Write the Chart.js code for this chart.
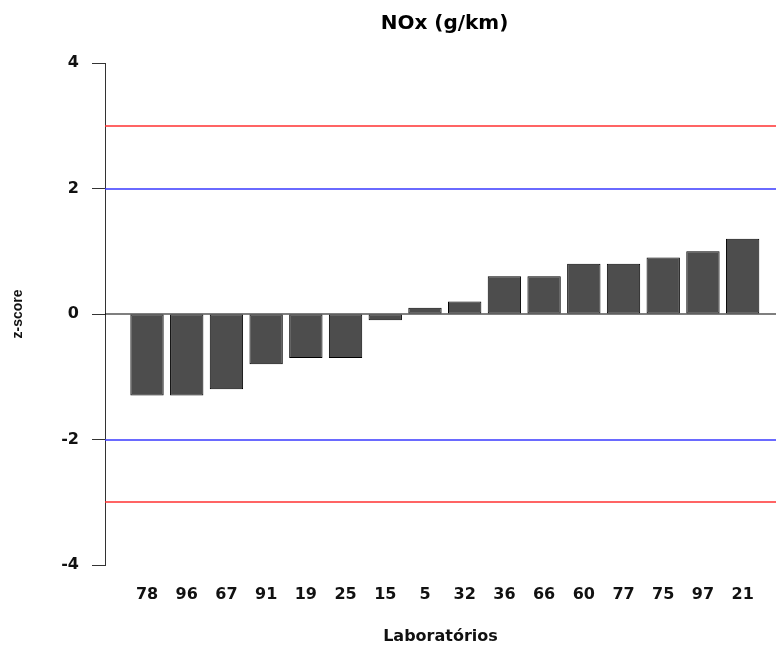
<!DOCTYPE html>
<html>
<head>
<meta charset="utf-8">
<script src="https://cdn.jsdelivr.net/npm/chart.js@4.4.0/dist/chart.umd.min.js"></script>
<style>
  html, body { margin: 0; padding: 0; background: #fff; }
  #wrap { width: 776px; height: 648px; }
</style>
</head>
<body>
<div id="wrap"><canvas id="zChart"></canvas></div>
<script>
const labs = ["78", "96", "67", "91", "19", "25", "15", "5", "32", "36", "66", "60", "77", "75", "97", "21"];
const zScores = [-1.3, -1.3, -1.2, -0.8, -0.7, -0.7, -0.1, 0.1, 0.2, 0.6, 0.6, 0.8, 0.8, 0.9, 1.0, 1.2];
const yTicks = [-4, -2, 0, 2, 4];
const refValues = [3, 2, 0, -2, -3];
const refColors = ["#ff3030", "#3838ff", "#000000", "#3838ff", "#ff3030"];

const wide = "'DejaVu Sans', sans-serif";
const narrow = "'Liberation Sans', Arial, sans-serif";

const refLines = {
  id: "refLines",
  afterDatasetsDraw(chart) {
    const ctx = chart.ctx;
    const area = chart.chartArea;
    const y = chart.scales.y;
    ctx.save();
    refValues.forEach((v, i) => {
      const py = Math.round(y.getPixelForValue(v));
      ctx.lineWidth = v === 0 ? 1.2 : 1.6;
      ctx.strokeStyle = refColors[i];
      ctx.beginPath();
      ctx.moveTo(area.left, py);
      ctx.lineTo(area.right, py);
      ctx.stroke();
    });
    ctx.restore();
  },
  afterDraw(chart) {
    // main title, centred over the plot region
    const ctx = chart.ctx;
    const area = chart.chartArea;
    ctx.save();
    ctx.font = "bold 20px " + wide;
    ctx.fillStyle = "#000";
    ctx.textAlign = "center";
    ctx.textBaseline = "alphabetic";
    ctx.fillText("NOx (g/km)", (area.left + area.right) / 2 + 4, 29);
    ctx.restore();
  },
};

new Chart(document.getElementById("zChart"), {
  type: "bar",
  data: {
    datasets: [
      {
        data: zScores.map((v, i) => ({ x: i, y: v })),
        backgroundColor: "#4d4d4d",
        borderColor: "#000",
        borderWidth: 1,
        borderSkipped: false,
        barPercentage: 0.84,
        categoryPercentage: 1,
      },
    ],
  },
  options: {
    responsive: true,
    maintainAspectRatio: false,
    animation: false,
    layout: { padding: { top: 63, right: 0, bottom: 0, left: 0 } },
    plugins: {
      legend: { display: false },
      tooltip: { enabled: false },
    },
    scales: {
      x: {
        type: "linear",
        offset: false,
        min: -1.058,
        max: 15.84,
        grid: { display: false, drawTicks: false },
        border: { display: false },
        ticks: {
          stepSize: 1,
          includeBounds: false,
          autoSkip: false,
          maxRotation: 0,
          padding: 20,
          color: "#111",
          font: { family: wide, size: 16, weight: "bold" },
          callback: (v) => (labs[v] !== undefined ? labs[v] : ""),
        },
        title: {
          display: true,
          text: "Laboratórios",
          color: "#111",
          font: { family: wide, size: 16, weight: "bold" },
          padding: { top: 0, bottom: 2 },
        },
        afterFit(scale) {
          scale.height = 83;
        },
      },
      y: {
        min: -4,
        max: 4,
        afterBuildTicks(scale) {
          scale.ticks = yTicks.map((v) => ({ value: v }));
        },
        grid: {
          drawOnChartArea: false,
          drawTicks: true,
          tickLength: 13,
          color: "#333",
        },
        border: { display: true, color: "#333", width: 1 },
        ticks: {
          padding: 13,
          color: "#111",
          font: { family: wide, size: 16, weight: "bold" },
        },
        title: {
          display: true,
          text: "z-score",
          color: "#111",
          font: { family: narrow, size: 14, weight: "bold" },
          padding: { top: 10, bottom: 0 },
        },
        afterFit(scale) {
          scale.width = 105;
        },
      },
    },
  },
  plugins: [refLines],
});
</script>
</body>
</html>
